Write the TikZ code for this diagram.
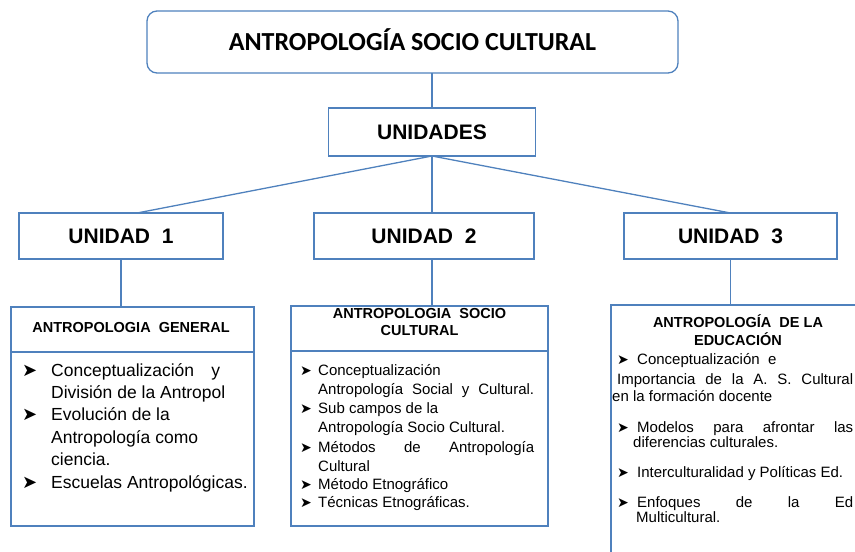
\documentclass[tikz,border=0pt]{standalone}
\usepackage{fontspec}
\setmainfont{Liberation Sans}
\newfontfamily\calib{Carlito}
\newfontfamily\djv{DejaVu Sans}
\definecolor{lnblue}{HTML}{4F81BD}
\begin{document}
\begin{tikzpicture}[x=1pt,y=-1pt,
  box/.style={draw=lnblue, line width=1.3pt, inner sep=0pt, outer sep=0pt},
  conn/.style={draw=lnblue, line width=1.3pt},
  ttl/.style={box, rounded corners=10pt, font=\calib\bfseries\fontsize{26}{31}\selectfont, text height=16.5pt, text depth=0pt},
  unit/.style={box, font=\bfseries\fontsize{21}{25}\selectfont, text height=15pt, text depth=0pt},
  hd/.style={font=\bfseries\fontsize{14.5}{17}\selectfont, inner sep=0pt, text height=10.4pt, text depth=0pt},
  ta/.style={font=\fontsize{17.5}{21}\selectfont, anchor=base west, inner sep=0pt},
  tb/.style={font=\fontsize{15}{18}\selectfont, anchor=base west, inner sep=0pt},
  bula/.style={font=\djv\fontsize{18}{20}\selectfont, anchor=base west, inner sep=0pt},
  bulb/.style={font=\djv\fontsize{14}{16}\selectfont, anchor=base west, inner sep=0pt},
]
\useasboundingbox (0,0) rectangle (855,552);
\clip (0,0) rectangle (855,552);

% top level
\node[ttl, minimum width=531pt, minimum height=62pt] (ti) at (412.5,42) {ANTROPOLOGÍA SOCIO CULTURAL};
\node[unit, minimum width=207pt, minimum height=48pt] (un) at (432,132) {UNIDADES};
\node[unit, minimum width=204pt, minimum height=46pt] (u1) at (121,236) {UNIDAD\ \ 1};
\node[unit, minimum width=220pt, minimum height=46pt] (u2) at (424,236) {UNIDAD\ \ 2};
\node[unit, minimum width=213pt, minimum height=46pt] (u3) at (730.5,236) {UNIDAD\ \ 3};

% lower boxes
\node[box, minimum width=243pt, minimum height=45pt] (h1) at (132.5,329.5) {};
\node[box, minimum width=243pt, minimum height=174pt] (b1) at (132.5,439) {};
\node[box, minimum width=257pt, minimum height=45pt] (h2) at (419.5,328.5) {};
\node[box, minimum width=257pt, minimum height=175pt] (b2) at (419.5,438.5) {};
\node[box, minimum width=289pt, minimum height=295pt] (b3) at (755.5,452.5) {};

% connectors
\draw[conn] (un.north) -- (un.north |- ti.south);
\draw[conn] (un.south) -- ([xshift=16pt]u1.north);
\draw[conn] (un.south) -- (un.south |- u2.north);
\draw[conn] (un.south) -- (u3.north);
\draw[conn] (u1.south) -- (u1.south |- h1.north);
\draw[conn] (un.south |- u2.south) -- (un.south |- h2.north);
\draw[conn] (u3.south) -- (u3.south |- b3.north);

% box 1 text
\node[hd] (h1t) at (131,327) {ANTROPOLOGIA\ \ GENERAL};
\node[bula] (a1) at (22,376) {➤};
\node[ta] (a1t) at (51,376) {\makebox[169pt][s]{Conceptualización y}};
\node[ta] (a1u) at (51,398.4) {División de la Antropol};
\node[bula] (a2) at (22,420.8) {➤};
\node[ta] (a2t) at (51,420.8) {Evolución de la};
\node[ta] (a2u) at (51,443.2) {Antropología como};
\node[ta] (a2v) at (51,465.6) {ciencia.};
\node[bula] (a3) at (22,488) {➤};
\node[ta] (a3t) at (51,488) {Escuelas Antropológicas.};

% box 2 text
\node[hd] (h2t) at (419.5,313) {ANTROPOLOGIA\ \ SOCIO};
\node[hd] (h2u) at (419.5,330) {CULTURAL};
\node[bulb] (c1) at (300,375) {➤};
\node[tb] (c1t) at (318,375) {Conceptualización};
\node[tb] (c1u) at (318,394) {\makebox[216pt][s]{Antropología Social y Cultural.}};
\node[bulb] (c2) at (300,413) {➤};
\node[tb] (c2t) at (318,413) {Sub\ campos\ de\ la};
\node[tb] (c2u) at (318,432) {Antropología Socio Cultural.};
\node[bulb] (c3) at (300,452) {➤};
\node[tb] (c3t) at (318,452) {\makebox[216pt][s]{Métodos de Antropología}};
\node[tb] (c3u) at (318,471) {Cultural};
\node[bulb] (c4) at (300,489) {➤};
\node[tb] (c4t) at (318,489) {Método\ Etnográfico};
\node[bulb] (c5) at (300,507) {➤};
\node[tb] (c5t) at (318,507) {Técnicas Etnográficas.};

% box 3 text
\node[hd] (h3t) at (738,322) {ANTROPOLOGÍA\ \ DE\ LA};
\node[hd] (h3u) at (738,340) {EDUCACIÓN};
\node[bulb] (e1) at (617,364) {➤};
\node[tb] (e1t) at (637,364) {Conceptualización\ \ e};
\node[tb] (e1u) at (617,384) {\makebox[236pt][s]{Importancia de la A. S. Cultural}};
\node[tb] (e1v) at (612,401) {en la formación docente};
\node[bulb] (e2) at (617,432) {➤};
\node[tb] (e2t) at (637,432) {\makebox[216pt][s]{Modelos para afrontar las}};
\node[tb] (e2u) at (633,447) {diferencias culturales.};
\node[bulb] (e3) at (617,477) {➤};
\node[tb] (e3t) at (637,477) {Interculturalidad\ y Políticas Ed.};
\node[bulb] (e4) at (617,507) {➤};
\node[tb] (e4t) at (637,507) {\makebox[216pt][s]{Enfoques de la Ed}};
\node[tb] (e4u) at (636,522) {Multicultural.};
\end{tikzpicture}
\end{document}
